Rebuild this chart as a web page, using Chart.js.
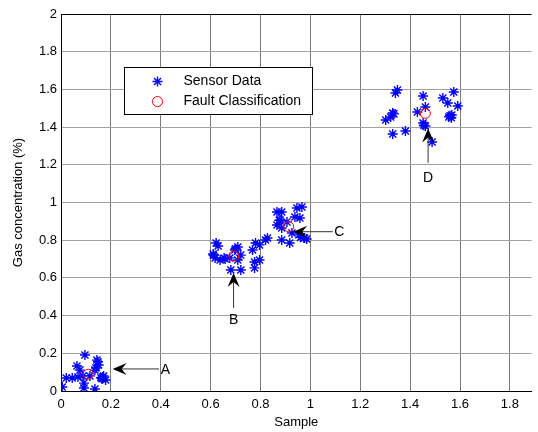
<!DOCTYPE html>
<html><head><meta charset="utf-8">
<script src="https://cdn.jsdelivr.net/npm/chart.js@4.4.0/dist/chart.umd.min.js"></script>
<style>html,body{margin:0;padding:0;background:#fff;overflow:hidden}#wrap{width:538px;height:432px;position:relative}</style>
</head><body><div id="wrap"><canvas id="c" width="538" height="432"></canvas></div>
<script>
// ---- data ----
const sensorX = [
  0.096,0.144,0.151,0.140,0.064,0.076,0.136,0.021,0.045,0.068,0.088,0.167,0.179,0.171,0.005,0.092,0.092,0.136,0.116,0.148,0.160,0.164,
  0.622,0.630,0.610,0.618,0.638,0.658,0.654,0.677,0.697,0.709,0.721,0.709,0.681,0.721,0.768,0.776,0.796,0.776,0.780,0.796,0.820,0.612,0.700,
  0.946,0.966,0.938,0.958,0.885,0.866,0.879,0.866,0.885,0.926,0.954,0.977,0.985,0.828,0.885,0.917,0.906,0.875,0.960,
  1.341,1.349,1.452,1.531,1.575,1.551,1.591,1.330,1.322,1.302,1.429,1.461,1.567,1.555,1.452,1.461,1.330,1.381,1.488,1.335,1.560,1.565,1.455
];
const sensorY = [
  0.191,0.164,0.138,0.122,0.133,0.111,0.111,0.069,0.069,0.074,0.080,0.074,0.058,0.080,0.021,0.042,0.016,0.011,0.080,0.155,0.070,0.065,
  0.785,0.769,0.727,0.706,0.695,0.700,0.706,0.706,0.748,0.764,0.721,0.695,0.642,0.642,0.748,0.684,0.695,0.653,0.785,0.775,0.801,0.720,0.755,
  0.971,0.976,0.923,0.918,0.950,0.950,0.907,0.881,0.865,0.838,0.828,0.812,0.806,0.812,0.801,0.785,0.897,0.905,0.815,
  1.581,1.597,1.565,1.554,1.586,1.528,1.512,1.475,1.454,1.438,1.480,1.507,1.464,1.454,1.422,1.406,1.363,1.379,1.321,1.470,1.460,1.450,1.410
];
const faultX = [0.109, 0.693, 0.913, 1.461];
const faultY = [0.089, 0.716, 0.872, 1.473];
const xTicks = [0, 0.2, 0.4, 0.6, 0.8, 1, 1.2, 1.4, 1.6, 1.8];
const yTicks = [0, 0.2, 0.4, 0.6, 0.8, 1, 1.2, 1.4, 1.6, 1.8, 2];
const arrowLabels = ['A', 'B', 'C', 'D'];
const arrowTailX = [0.393, 0.692, 1.090, 1.472];
const arrowTailY = [0.117, 0.440, 0.845, 1.210];
const arrowTipX  = [0.207, 0.692, 0.931, 1.472];
const arrowTipY  = [0.117, 0.626, 0.845, 1.393];
const labelX = [0.419, 0.692, 1.116, 1.472];
const labelY = [0.111, 0.377, 0.843, 1.130];

const FONT = '"Liberation Sans", Arial, sans-serif';
const fmt = v => String(+(+v).toFixed(1));

function drawStar(ctx, cx, cy, r, color, w) {
  ctx.strokeStyle = color; ctx.lineWidth = w;
  ctx.beginPath();
  for (let k = 0; k < 4; k++) {
    const a = k * Math.PI / 4;
    ctx.moveTo(cx - Math.cos(a) * r, cy - Math.sin(a) * r);
    ctx.lineTo(cx + Math.cos(a) * r, cy + Math.sin(a) * r);
  }
  ctx.stroke();
}

const overlay = {
  id: 'overlay',
  afterDatasetsDraw(chart) {
    const { ctx, scales: { x, y }, chartArea } = chart;
    ctx.save();
    for (let i = 0; i < arrowLabels.length; i++) {
      const tx = x.getPixelForValue(arrowTailX[i]), ty = y.getPixelForValue(arrowTailY[i]);
      const hx = x.getPixelForValue(arrowTipX[i]), hy = y.getPixelForValue(arrowTipY[i]);
      const ang = Math.atan2(hy - ty, hx - tx);
      const ux = Math.cos(ang), uy = Math.sin(ang), px = -uy, py = ux;
      const L = 14, W = 6, N = 9;
      ctx.strokeStyle = '#333'; ctx.lineWidth = 1;
      ctx.beginPath(); ctx.moveTo(tx, ty); ctx.lineTo(hx - ux * N, hy - uy * N); ctx.stroke();
      ctx.fillStyle = '#000';
      ctx.beginPath();
      ctx.moveTo(hx, hy);
      ctx.lineTo(hx - ux * L + px * W, hy - uy * L + py * W);
      ctx.lineTo(hx - ux * N, hy - uy * N);
      ctx.lineTo(hx - ux * L - px * W, hy - uy * L - py * W);
      ctx.closePath(); ctx.fill();
      ctx.font = '14px ' + FONT; ctx.textAlign = 'center'; ctx.textBaseline = 'middle';
      ctx.fillText(arrowLabels[i], x.getPixelForValue(labelX[i]), y.getPixelForValue(labelY[i]));
    }
    const lx = chartArea.left + 63.5, ly = chartArea.top + 53.5, lw = 188, lh = 47;
    ctx.fillStyle = '#fff'; ctx.fillRect(lx, ly, lw, lh);
    ctx.strokeStyle = '#000'; ctx.lineWidth = 1; ctx.strokeRect(lx, ly, lw, lh);
    const ds = chart.data.datasets;
    const r1 = ly + 14, r2 = ly + 34, mx = lx + 33, tx0 = lx + 59;
    drawStar(ctx, mx, r1, 5, ds[0].borderColor, 1.4);
    ctx.strokeStyle = ds[1].borderColor; ctx.lineWidth = 1; ctx.beginPath(); ctx.arc(mx, r2, 5, 0, Math.PI * 2); ctx.stroke();
    ctx.fillStyle = '#000'; ctx.font = '14px ' + FONT; ctx.textAlign = 'left'; ctx.textBaseline = 'middle';
    ctx.fillText(ds[0].label, tx0, r1);
    ctx.fillText(ds[1].label, tx0, r2);
    ctx.restore();
  }
};

new Chart(document.getElementById('c'), {
  type: 'scatter',
  data: {
    datasets: [
      { label: 'Sensor Data', data: sensorX.map((v, i) => ({ x: v, y: sensorY[i] })),
        pointStyle: 'star', radius: 5, borderColor: '#0000ff', backgroundColor: '#0000ff', borderWidth: 1.4, order: 2 },
      { label: 'Fault Classification', data: faultX.map((v, i) => ({ x: v, y: faultY[i] })),
        pointStyle: 'circle', radius: 5, borderColor: '#ff0000', backgroundColor: 'rgba(0,0,0,0)', borderWidth: 1, order: 1 }
    ]
  },
  options: {
    responsive: false, animation: false,
    layout: { padding: { top: 14, left: 0, right: 0, bottom: 0 } },
    plugins: { legend: { display: false }, tooltip: { enabled: false } },
    elements: { point: { hoverRadius: 5 } },
    scales: {
      x: {
        type: 'linear', min: 0, max: 1.887,
        afterBuildTicks: s => { s.ticks = xTicks.map(v => ({ value: v })); },
        afterFit: s => { s.height = 41; },
        ticks: { font: { family: FONT, size: 13 }, color: '#000', padding: 6, maxRotation: 0, callback: fmt },
        grid: { color: '#7a7a7a', drawTicks: false, lineWidth: 1 },
        border: { color: '#000', width: 1 },
        title: { display: true, text: 'Sample', font: { family: FONT, size: 13 }, color: '#000', padding: { top: 0, bottom: 2 } }
      },
      y: {
        type: 'linear', min: 0, max: 2,
        afterBuildTicks: s => { s.ticks = yTicks.map(v => ({ value: v })); },
        afterFit: s => { s.width = 61; },
        ticks: { font: { family: FONT, size: 13 }, color: '#000', padding: 4, callback: fmt },
        grid: { color: c => (c.tick && c.tick.value === 2) ? '#000' : '#a0a0a0', drawTicks: false, lineWidth: 1 },
        border: { color: '#000', width: 1 },
        title: { display: true, text: 'Gas concentration (%)', font: { family: FONT, size: 13 }, color: '#000', padding: { top: 11, bottom: 0 } }
      }
    }
  },
  plugins: [overlay]
});
</script></body></html>
